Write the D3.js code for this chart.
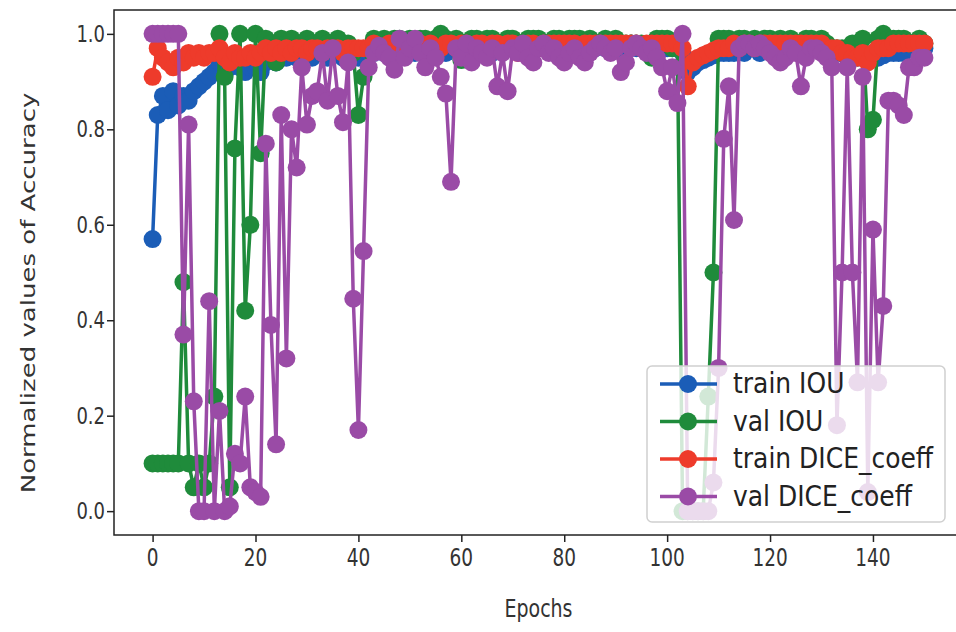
<!DOCTYPE html>
<html>
<head>
  <script src="https://d3js.org/d3.v7.min.js"></script>
  <style>
    body { margin: 0; background: #fff; }
    text { font-family: "DejaVu Sans", sans-serif; }
  </style>
</head>
<body>
<script type="text/javascript">

  // epochs 0..150
  var epochs = d3.range(0, 151);

  var trainIou = [
    0.57,0.83,0.87,0.84,0.88,0.85,0.87,0.86,0.88,0.89,
    0.90,0.91,0.92,0.94,0.93,0.93,0.94,0.93,0.92,0.93,
    0.93,0.92,0.94,0.95,0.94,0.95,0.95,0.96,0.95,0.95,
    0.96,0.95,0.96,0.96,0.95,0.96,0.96,0.95,0.96,0.96,
    0.95,0.96,0.96,0.96,0.97,0.96,0.96,0.97,0.96,0.97,
    0.97,0.96,0.97,0.97,0.96,0.97,0.97,0.96,0.97,0.97,
    0.97,0.97,0.96,0.97,0.97,0.97,0.96,0.97,0.97,0.97,
    0.97,0.97,0.97,0.96,0.97,0.97,0.97,0.97,0.97,0.96,
    0.97,0.97,0.97,0.97,0.97,0.97,0.97,0.98,0.97,0.97,
    0.97,0.97,0.97,0.98,0.97,0.97,0.97,0.97,0.97,0.97,
    0.97,0.97,0.97,0.96,0.92,0.93,0.94,0.945,0.95,0.955,
    0.96,0.96,0.96,0.96,0.97,0.96,0.97,0.97,0.96,0.97,
    0.97,0.97,0.96,0.97,0.97,0.97,0.97,0.96,0.97,0.97,
    0.97,0.96,0.96,0.96,0.96,0.95,0.95,0.95,0.95,0.95,
    0.96,0.95,0.955,0.96,0.96,0.96,0.96,0.97,0.97,0.96,
    0.97
  ];

  var valIou = [
    0.10,0.10,0.10,0.10,0.10,0.10,0.48,0.10,0.05,0.10,
    0.05,0.10,0.24,1.00,0.91,0.05,0.76,1.00,0.42,0.60,
    1.00,0.75,0.99,0.98,0.94,0.99,0.98,0.99,0.97,0.98,
    0.99,0.98,0.97,0.99,0.98,0.98,0.99,0.97,0.98,0.96,
    0.83,0.91,0.97,0.99,0.98,0.99,0.98,0.99,0.99,0.98,
    0.99,0.98,0.99,0.99,0.98,0.99,1.00,0.99,0.98,0.99,
    0.945,0.98,0.99,0.99,0.98,0.99,0.99,0.98,0.98,0.99,
    0.99,0.98,0.98,0.99,0.99,0.99,0.98,0.98,0.99,0.99,
    0.98,0.99,0.99,0.99,0.98,0.99,0.98,0.98,0.99,0.98,
    0.99,0.98,0.98,0.98,0.98,0.98,0.97,0.95,0.99,0.99,
    0.99,0.97,0.97,0.00,0.00,0.00,0.00,0.00,0.24,0.50,
    0.99,0.99,0.99,0.98,0.99,0.99,0.98,0.99,0.98,0.99,
    0.99,0.98,0.99,0.98,0.99,0.98,0.98,0.99,0.99,0.98,
    0.99,0.98,0.97,0.97,0.97,0.97,0.98,0.96,0.99,0.80,
    0.82,0.99,1.00,0.99,0.99,0.99,0.99,0.98,0.98,0.99,
    0.98
  ];

  var trainDice = [
    0.91,0.97,0.95,0.94,0.93,0.95,0.94,0.96,0.95,0.96,
    0.95,0.96,0.96,0.97,0.95,0.94,0.96,0.95,0.95,0.96,
    0.95,0.96,0.97,0.96,0.97,0.96,0.97,0.96,0.97,0.97,
    0.96,0.97,0.97,0.96,0.97,0.97,0.97,0.96,0.97,0.97,
    0.97,0.97,0.97,0.98,0.97,0.97,0.98,0.97,0.98,0.97,
    0.98,0.97,0.98,0.97,0.98,0.96,0.97,0.98,0.98,0.97,
    0.98,0.98,0.97,0.98,0.98,0.97,0.98,0.98,0.97,0.98,
    0.98,0.96,0.97,0.98,0.98,0.97,0.98,0.98,0.98,0.98,
    0.98,0.98,0.98,0.97,0.98,0.98,0.98,0.98,0.98,0.98,
    0.98,0.98,0.98,0.98,0.98,0.97,0.98,0.98,0.98,0.98,
    0.98,0.98,0.98,0.97,0.89,0.94,0.95,0.955,0.96,0.965,
    0.97,0.97,0.97,0.98,0.97,0.98,0.98,0.97,0.98,0.98,
    0.98,0.98,0.98,0.98,0.98,0.98,0.98,0.98,0.98,0.98,
    0.98,0.97,0.97,0.97,0.96,0.96,0.95,0.95,0.96,0.94,
    0.96,0.97,0.97,0.97,0.98,0.98,0.98,0.98,0.98,0.98,
    0.98
  ];

  var valDice = [
    1.00,1.00,1.00,1.00,1.00,1.00,0.37,0.81,0.23,0.00,
    0.00,0.44,0.00,0.21,0.00,0.01,0.12,0.10,0.24,0.05,
    0.04,0.03,0.77,0.39,0.14,0.83,0.32,0.80,0.72,0.93,
    0.81,0.87,0.88,0.96,0.86,0.97,0.87,0.815,0.94,0.445,
    0.17,0.545,0.93,0.96,0.975,0.96,0.95,0.925,0.99,0.95,
    0.97,0.99,0.96,0.93,0.97,0.95,0.91,0.875,0.69,0.97,
    0.95,0.98,0.94,0.97,0.96,0.95,0.97,0.89,0.96,0.88,
    0.97,0.96,0.98,0.95,0.94,0.97,0.98,0.96,0.97,0.95,
    0.94,0.96,0.97,0.95,0.94,0.96,0.97,0.98,0.97,0.96,
    0.97,0.92,0.94,0.97,0.98,0.97,0.96,0.97,0.95,0.93,
    0.88,0.93,0.855,1.00,0.00,0.00,0.00,0.00,0.00,0.06,
    0.30,0.78,0.89,0.61,0.97,0.98,0.98,0.97,0.98,0.97,
    0.96,0.95,0.94,0.95,0.97,0.96,0.89,0.95,0.97,0.97,
    0.96,0.95,0.93,0.18,0.50,0.93,0.50,0.27,0.91,0.04,
    0.59,0.27,0.43,0.86,0.86,0.85,0.83,0.93,0.93,0.95,
    0.95
  ];

  var seriesNames = ["train IOU", "val IOU", "train DICE_coeff", "val DICE_coeff"];
  var seriesValues = [trainIou, valIou, trainDice, valDice];
  var seriesColors = ["#1b5db7", "#1f8b3b", "#ee3b2b", "#9a4ba6"];

  var xTicks = [0, 20, 40, 60, 80, 100, 120, 140];
  var yTicks = [0.0, 0.2, 0.4, 0.6, 0.8, 1.0];

  var config = {
    canvas: {width: 956, height: 632},
    plot: {left: 114, right: 963, top: 10, bottom: 535},
    stretch: 1.3   // picture is taller than wide, glyphs look stretched
  };

  var svg = d3.select("body").append("svg")
    .attr("width", config.canvas.width)
    .attr("height", config.canvas.height);

  var x = d3.scaleLinear().domain([-7.5, 157.5]).range([config.plot.left, config.plot.right]);
  var y = d3.scaleLinear().domain([-0.05, 1.05]).range([config.plot.bottom, config.plot.top]);

  // series
  var line = d3.line()
    .x(function(d, i) { return x(epochs[i]); })
    .y(function(d) { return y(d); });

  seriesValues.forEach(function(vals, k) {
    var g = svg.append("g");
    g.append("path")
      .attr("d", line(vals))
      .attr("fill", "none")
      .attr("stroke", seriesColors[k])
      .attr("stroke-width", 3.5)
      .attr("stroke-linejoin", "round");
    g.selectAll("circle")
      .data(vals)
      .enter().append("circle")
      .attr("cx", function(d, i) { return x(epochs[i]); })
      .attr("cy", function(d) { return y(d); })
      .attr("r", 9)
      .attr("fill", seriesColors[k]);
  });

  // axes (tick marks from d3, labels drawn below so they can be stretched)
  var xAxis = svg.append("g")
    .attr("transform", "translate(0," + config.plot.bottom + ")")
    .call(d3.axisBottom(x).tickValues(xTicks).tickSize(7).tickFormat(""));
  var yAxis = svg.append("g")
    .attr("transform", "translate(" + config.plot.left + ",0)")
    .call(d3.axisLeft(y).tickValues(yTicks).tickSize(7).tickFormat(""));

  [xAxis, yAxis].forEach(function(a) {
    a.select(".domain").remove();
    a.selectAll(".tick line").attr("stroke", "#222").attr("stroke-width", 1.5);
  });

  svg.append("g").selectAll("text")
    .data(xTicks)
    .enter().append("text")
    .attr("transform", function(d) { return "translate(" + x(d) + ",566) scale(1," + config.stretch + ")"; })
    .attr("text-anchor", "middle")
    .attr("fill", "#333")
    .style("font-size", "18.5px")
    .text(d3.format("d"));

  svg.append("g").selectAll("text")
    .data(yTicks)
    .enter().append("text")
    .attr("transform", function(d) { return "translate(105," + (y(d) + 8) + ") scale(1," + config.stretch + ")"; })
    .attr("text-anchor", "end")
    .attr("fill", "#333")
    .style("font-size", "18px")
    .text(d3.format(".1f"));

  // frame
  svg.append("rect")
    .attr("x", config.plot.left)
    .attr("y", config.plot.top)
    .attr("width", config.plot.right - config.plot.left)
    .attr("height", config.plot.bottom - config.plot.top)
    .attr("fill", "none")
    .attr("stroke", "#222")
    .attr("stroke-width", 1.5);

  // labels
  svg.append("text")
    .attr("transform", "translate(" + ((config.plot.left + config.plot.right) / 2) + ",617) scale(1," + config.stretch + ")")
    .attr("text-anchor", "middle")
    .attr("fill", "#333")
    .style("font-size", "19px")
    .text("Epochs");

  svg.append("text")
    .attr("transform", "translate(35,293) rotate(-90) scale(1.37,1)")
    .attr("text-anchor", "middle")
    .attr("fill", "#333")
    .style("font-size", "19px")
    .text("Normalized values of Accuracy");

  // legend
  var legend = svg.append("g").attr("transform", "translate(647,366)");
  legend.append("rect")
    .attr("width", 298)
    .attr("height", 156)
    .attr("rx", 5)
    .attr("fill", "#fff")
    .attr("fill-opacity", 0.8)
    .attr("stroke", "#d0d0d0")
    .attr("stroke-width", 1.5);

  seriesNames.forEach(function(name, k) {
    var row = legend.append("g").attr("transform", "translate(0," + (18 + k * 37.5) + ")");
    row.append("line")
      .attr("x1", 13).attr("x2", 70)
      .attr("stroke", seriesColors[k]).attr("stroke-width", 3.5);
    row.append("circle")
      .attr("cx", 41).attr("r", 9)
      .attr("fill", seriesColors[k]);
    row.append("text")
      .attr("transform", "translate(86,9) scale(1,1.12)")
      .attr("fill", "#222")
      .style("font-size", "25px")
      .text(name);
  });

</script>
</body>
</html>
